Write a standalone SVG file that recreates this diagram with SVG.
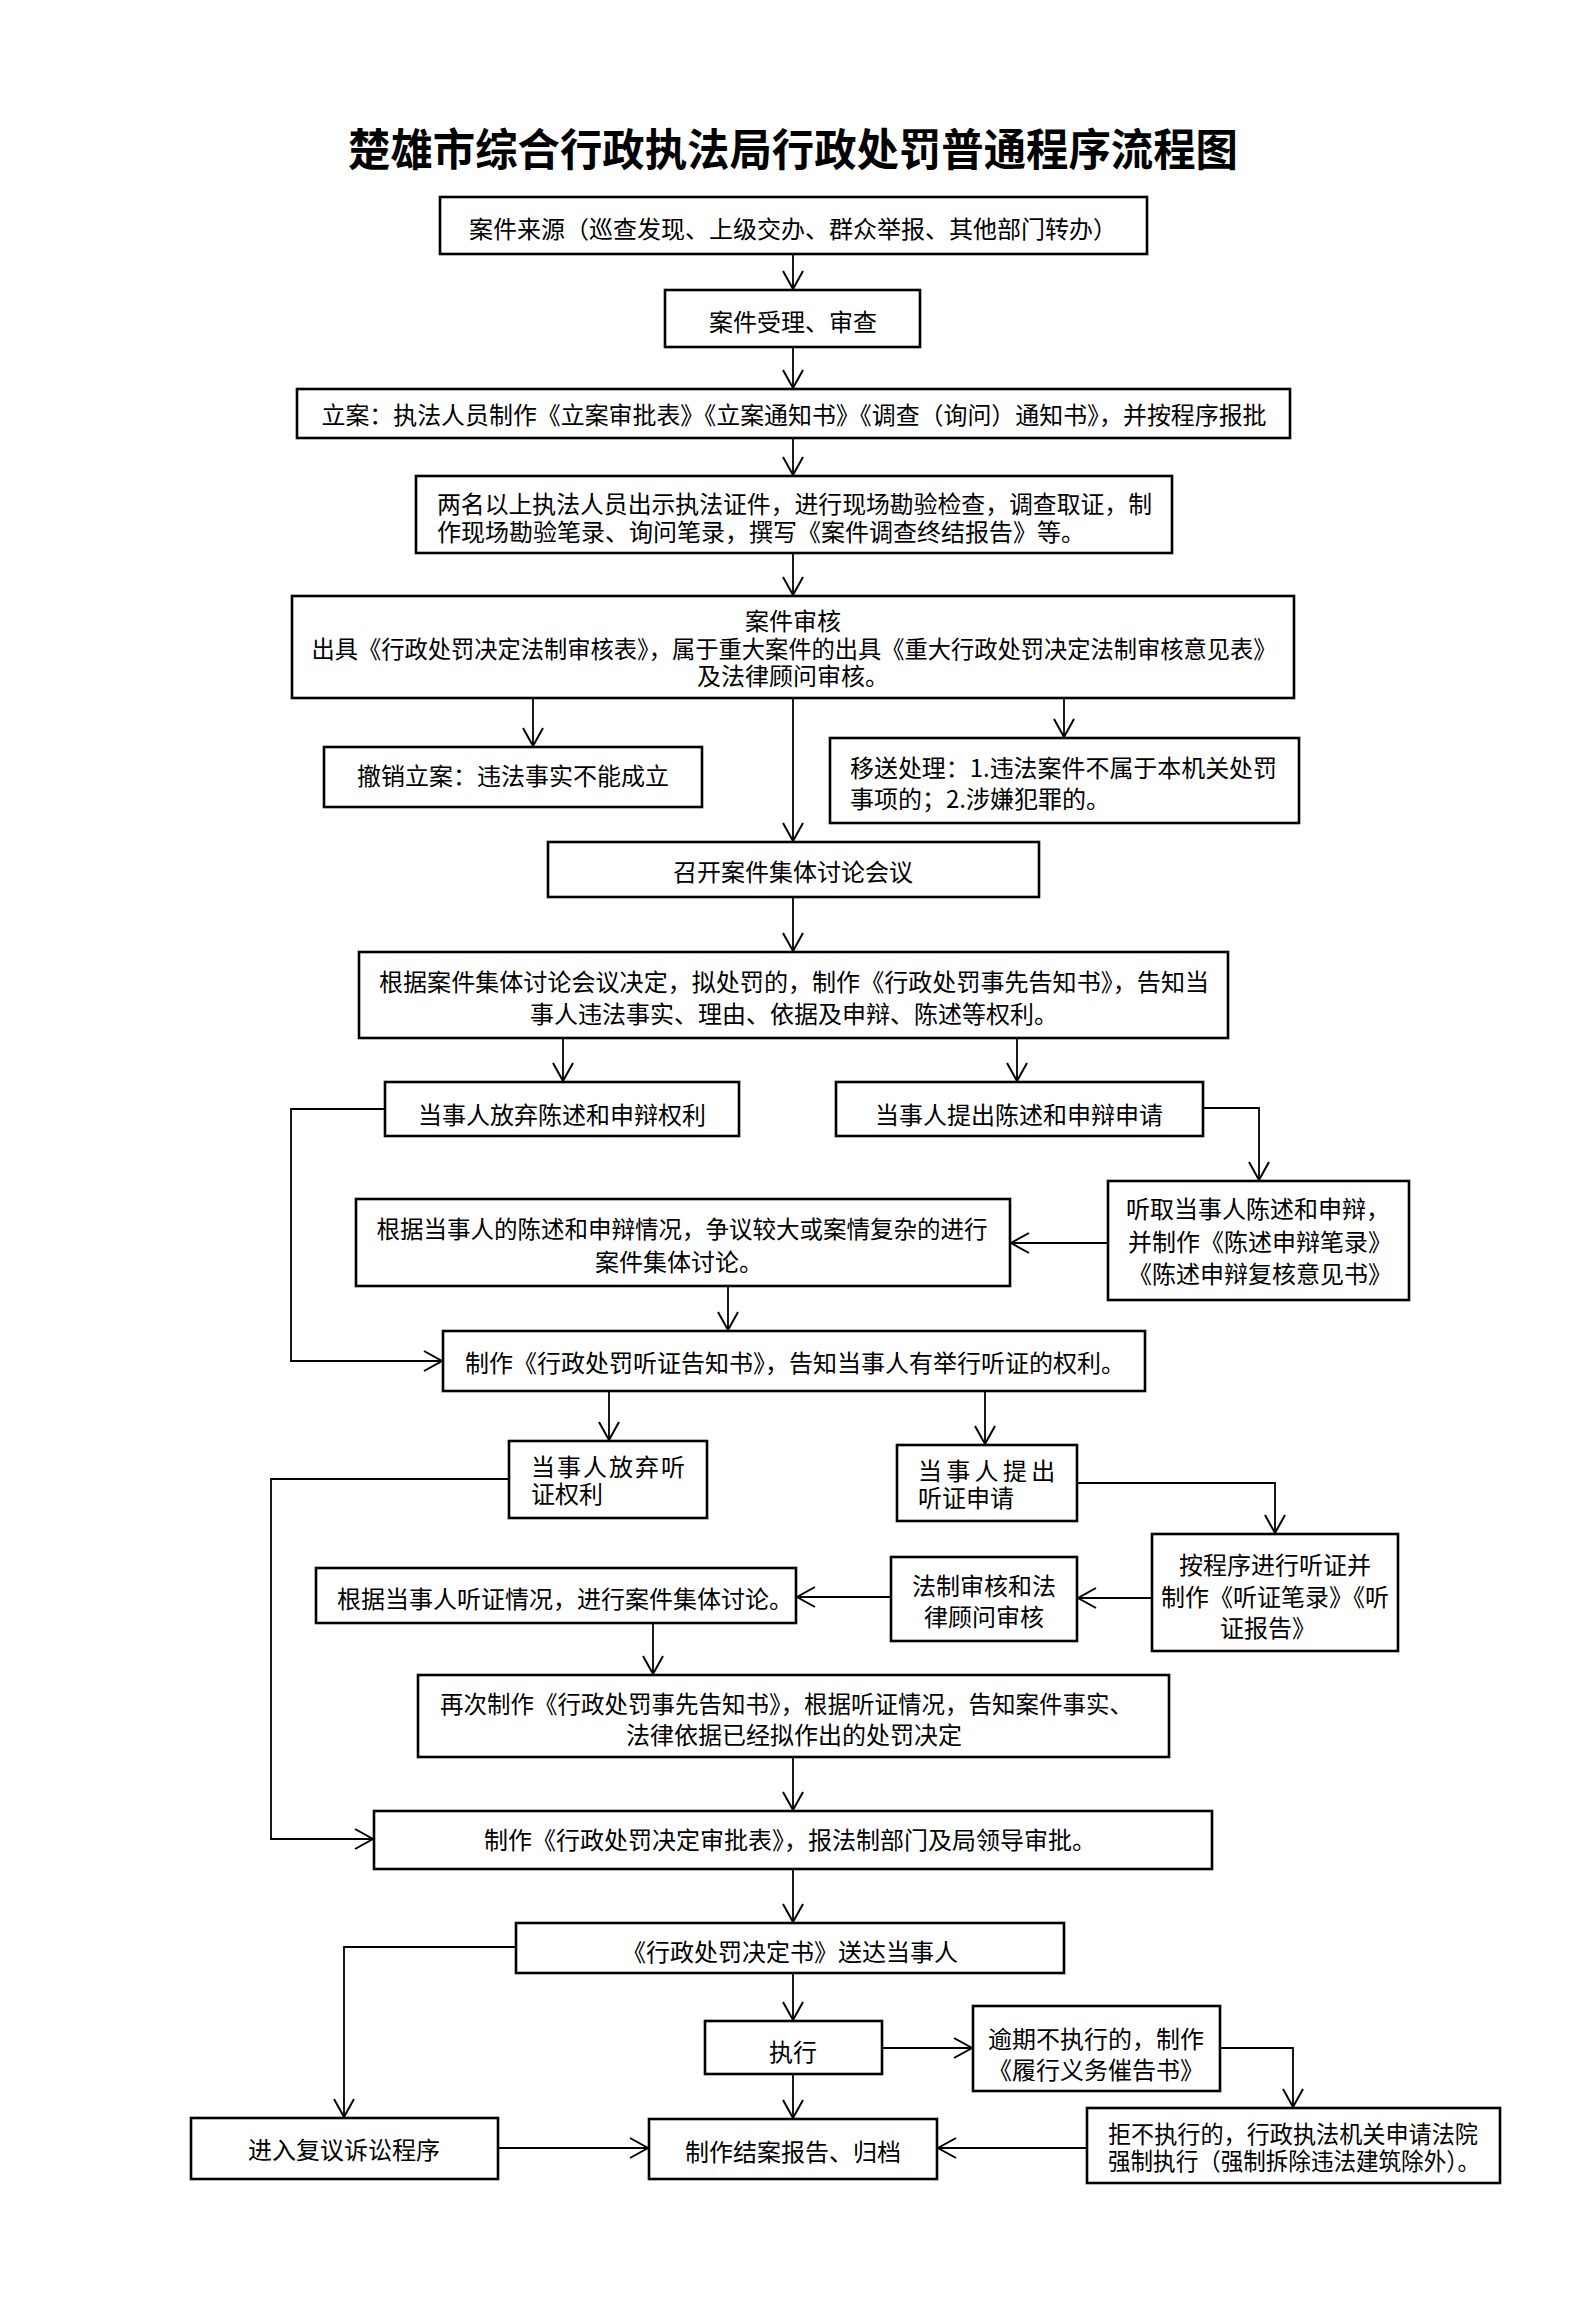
<svg xmlns="http://www.w3.org/2000/svg" width="1587" height="2310" viewBox="0 0 1587 2310">
<style>
.box{fill:#fff;stroke:#000;stroke-width:2.6}
.t{font-family:"Noto Sans CJK SC","Liberation Sans",sans-serif;font-size:24px;fill:#000;dominant-baseline:central}
.c{text-anchor:middle}
.title{font-family:"Noto Sans CJK SC","Liberation Sans",sans-serif;font-size:44px;font-weight:bold;fill:#000;text-anchor:middle;dominant-baseline:central}
.cn{fill:none;stroke:#000;stroke-width:1.8}
</style>
<defs>
<marker id="arr" markerUnits="userSpaceOnUse" markerWidth="22" markerHeight="24" refX="18" refY="10" orient="auto" overflow="visible">
<path d="M0,0 L18,10 L0,20" fill="none" stroke="#000" stroke-width="2"/>
</marker>
</defs>
<rect width="1587" height="2310" fill="#fff"/>
<text class="title" x="793" y="147" textLength="890" lengthAdjust="spacingAndGlyphs">楚雄市综合行政执法局行政处罚普通程序流程图</text>

<g id="connectors">
<path class="cn" d="M793,254 V289" marker-end="url(#arr)"/>
<path class="cn" d="M793,347 V388" marker-end="url(#arr)"/>
<path class="cn" d="M793,438 V475" marker-end="url(#arr)"/>
<path class="cn" d="M793,553 V595" marker-end="url(#arr)"/>
<path class="cn" d="M533,698 V746" marker-end="url(#arr)"/>
<path class="cn" d="M1064,698 V737" marker-end="url(#arr)"/>
<path class="cn" d="M793,698 V841" marker-end="url(#arr)"/>
<path class="cn" d="M793,897 V951" marker-end="url(#arr)"/>
<path class="cn" d="M563,1038 V1081" marker-end="url(#arr)"/>
<path class="cn" d="M1017,1038 V1081" marker-end="url(#arr)"/>
<path class="cn" d="M385,1109 H291 V1361 H442" marker-end="url(#arr)"/>
<path class="cn" d="M1203,1108 H1259 V1180" marker-end="url(#arr)"/>
<path class="cn" d="M1108,1243 H1011" marker-end="url(#arr)"/>
<path class="cn" d="M728,1286 V1330" marker-end="url(#arr)"/>
<path class="cn" d="M609,1391 V1440" marker-end="url(#arr)"/>
<path class="cn" d="M985,1391 V1444" marker-end="url(#arr)"/>
<path class="cn" d="M509,1479 H271 V1839 H373" marker-end="url(#arr)"/>
<path class="cn" d="M1077,1483 H1275 V1533" marker-end="url(#arr)"/>
<path class="cn" d="M1152,1598 H1078" marker-end="url(#arr)"/>
<path class="cn" d="M891,1597 H797" marker-end="url(#arr)"/>
<path class="cn" d="M653,1623 V1674" marker-end="url(#arr)"/>
<path class="cn" d="M793,1757 V1810" marker-end="url(#arr)"/>
<path class="cn" d="M793,1869 V1922" marker-end="url(#arr)"/>
<path class="cn" d="M516,1947 H344 V2117" marker-end="url(#arr)"/>
<path class="cn" d="M793,1973 V2020" marker-end="url(#arr)"/>
<path class="cn" d="M882,2048 H972" marker-end="url(#arr)"/>
<path class="cn" d="M1220,2048 H1293 V2107" marker-end="url(#arr)"/>
<path class="cn" d="M793,2074 V2118" marker-end="url(#arr)"/>
<path class="cn" d="M498,2148 H648" marker-end="url(#arr)"/>
<path class="cn" d="M1087,2148 H938" marker-end="url(#arr)"/>
</g>

<g id="n1"><rect class="box" x="440" y="197" width="707" height="57"/><text class="t c" x="793" y="227">案件来源（巡查发现、上级交办、群众举报、其他部门转办）</text></g>
<g id="n2"><rect class="box" x="665" y="290" width="255" height="57"/><text class="t c" x="793" y="320">案件受理、审查</text></g>
<g id="n3"><rect class="box" x="297" y="389" width="993" height="49"/><text class="t c" x="794" y="413" textLength="945" lengthAdjust="spacingAndGlyphs">立案：执法人员制作《立案审批表》《立案通知书》《调查（询问）通知书》，并按程序报批</text></g>
<g id="n4"><rect class="box" x="416" y="476" width="756" height="77"/><text class="t" x="437" y="502" textLength="715" lengthAdjust="spacingAndGlyphs">两名以上执法人员出示执法证件，进行现场勘验检查，调查取证，制</text><text class="t" x="437" y="530">作现场勘验笔录、询问笔录，撰写《案件调查终结报告》等。</text></g>
<g id="n5"><rect class="box" x="292" y="596" width="1002" height="102"/><text class="t c" x="793" y="619">案件审核</text><text class="t c" x="794" y="647" textLength="965" lengthAdjust="spacingAndGlyphs">出具《行政处罚决定法制审核表》，属于重大案件的出具《重大行政处罚决定法制审核意见表》</text><text class="t c" x="793" y="674">及法律顾问审核。</text></g>
<g id="n6"><rect class="box" x="324" y="747" width="378" height="60"/><text class="t c" x="513" y="774">撤销立案：违法事实不能成立</text></g>
<g id="n7"><rect class="box" x="830" y="738" width="469" height="85"/><text class="t" x="850" y="766" textLength="427" lengthAdjust="spacingAndGlyphs">移送处理：1.违法案件不属于本机关处罚</text><text class="t" x="850" y="797">事项的；2.涉嫌犯罪的。</text></g>
<g id="n8"><rect class="box" x="548" y="842" width="491" height="55"/><text class="t c" x="793" y="870">召开案件集体讨论会议</text></g>
<g id="n9"><rect class="box" x="359" y="952" width="869" height="86"/><text class="t c" x="794" y="980" textLength="830" lengthAdjust="spacingAndGlyphs">根据案件集体讨论会议决定，拟处罚的，制作《行政处罚事先告知书》，告知当</text><text class="t c" x="794" y="1012">事人违法事实、理由、依据及申辩、陈述等权利。</text></g>
<g id="n10"><rect class="box" x="385" y="1082" width="354" height="54"/><text class="t c" x="562" y="1113">当事人放弃陈述和申辩权利</text></g>
<g id="n11"><rect class="box" x="836" y="1082" width="367" height="54"/><text class="t c" x="1019" y="1113">当事人提出陈述和申辩申请</text></g>
<g id="n12"><rect class="box" x="1108" y="1181" width="301" height="119"/><text class="t c" x="1258" y="1207">听取当事人陈述和申辩，</text><text class="t c" x="1260" y="1240">并制作《陈述申辩笔录》</text><text class="t c" x="1260" y="1272">《陈述申辩复核意见书》</text></g>
<g id="n13"><rect class="box" x="356" y="1199" width="654" height="87"/><text class="t c" x="682" y="1227" textLength="611" lengthAdjust="spacingAndGlyphs">根据当事人的陈述和申辩情况，争议较大或案情复杂的进行</text><text class="t c" x="679" y="1260">案件集体讨论。</text></g>
<g id="n14"><rect class="box" x="443" y="1331" width="702" height="60"/><text class="t" x="465" y="1361">制作《行政处罚听证告知书》，告知当事人有举行听证的权利。</text></g>
<g id="n15"><rect class="box" x="509" y="1441" width="198" height="77"/><text class="t" x="531" y="1465" letter-spacing="2">当事人放弃听</text><text class="t" x="531" y="1492">证权利</text></g>
<g id="n16"><rect class="box" x="897" y="1445" width="180" height="76"/><text class="t" x="918" y="1469" letter-spacing="4.3">当事人提出</text><text class="t" x="918" y="1496">听证申请</text></g>
<g id="n17"><rect class="box" x="1152" y="1534" width="246" height="117"/><text class="t c" x="1275" y="1563">按程序进行听证并</text><text class="t c" x="1275" y="1595">制作《听证笔录》《听</text><text class="t c" x="1268" y="1626">证报告》</text></g>
<g id="n18"><rect class="box" x="891" y="1557" width="186" height="84"/><text class="t c" x="984" y="1584">法制审核和法</text><text class="t c" x="984" y="1615">律顾问审核</text></g>
<g id="n19"><rect class="box" x="316" y="1568" width="480" height="55"/><text class="t" x="337" y="1597">根据当事人听证情况，进行案件集体讨论。</text></g>
<g id="n20"><rect class="box" x="418" y="1675" width="751" height="82"/><text class="t" x="440" y="1702" textLength="693" lengthAdjust="spacingAndGlyphs">再次制作《行政处罚事先告知书》，根据听证情况，告知案件事实、</text><text class="t c" x="794" y="1733">法律依据已经拟作出的处罚决定</text></g>
<g id="n21"><rect class="box" x="374" y="1811" width="838" height="58"/><text class="t c" x="790" y="1838">制作《行政处罚决定审批表》，报法制部门及局领导审批。</text></g>
<g id="n22"><rect class="box" x="516" y="1923" width="548" height="50"/><text class="t c" x="790" y="1950">《行政处罚决定书》送达当事人</text></g>
<g id="n23"><rect class="box" x="705" y="2021" width="177" height="53"/><text class="t c" x="793" y="2050">执行</text></g>
<g id="n24"><rect class="box" x="973" y="2006" width="247" height="85"/><text class="t c" x="1096" y="2037">逾期不执行的，制作</text><text class="t c" x="1096" y="2068">《履行义务催告书》</text></g>
<g id="n25"><rect class="box" x="191" y="2118" width="307" height="61"/><text class="t c" x="344" y="2148">进入复议诉讼程序</text></g>
<g id="n26"><rect class="box" x="649" y="2119" width="288" height="60"/><text class="t c" x="793" y="2150">制作结案报告、归档</text></g>
<g id="n27"><rect class="box" x="1087" y="2108" width="413" height="75"/><text class="t" x="1108" y="2132" textLength="370" lengthAdjust="spacingAndGlyphs">拒不执行的，行政执法机关申请法院</text><text class="t" x="1108" y="2159" textLength="372" lengthAdjust="spacingAndGlyphs">强制执行（强制拆除违法建筑除外）。</text></g>
</svg>
